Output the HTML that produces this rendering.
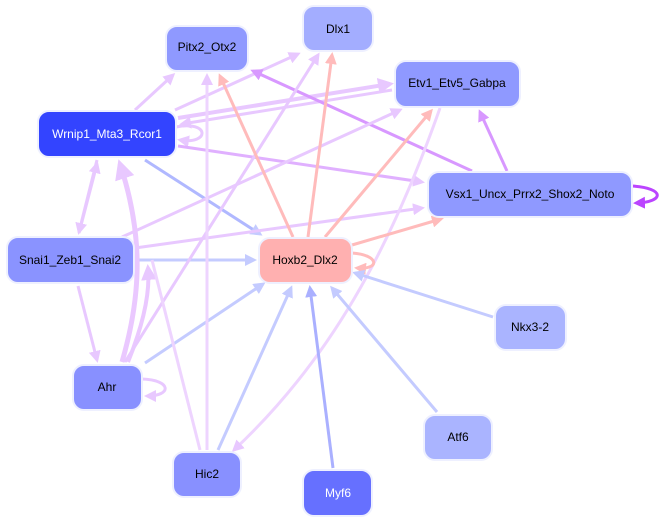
<!DOCTYPE html>
<html><head><style>
body{margin:0;background:#fff;width:661px;height:522px;overflow:hidden}
text{font-family:"Liberation Sans",sans-serif;font-size:12px;text-anchor:middle;dominant-baseline:central}
</style></head><body>
<svg width="661" height="522" viewBox="0 0 661 522">
<defs>
<marker id="ml" markerWidth="4" markerHeight="4" refX="3" refY="2" orient="auto" markerUnits="strokeWidth"><path d="M0,0L4,2L0,4z" fill="#e8c8ff"/></marker>
<marker id="mp" markerWidth="4" markerHeight="4" refX="3" refY="2" orient="auto" markerUnits="strokeWidth"><path d="M0,0L4,2L0,4z" fill="#ffbbbb"/></marker>
<marker id="mb" markerWidth="4" markerHeight="4" refX="3" refY="2" orient="auto" markerUnits="strokeWidth"><path d="M0,0L4,2L0,4z" fill="#c4cbff"/></marker>
<marker id="mu" markerWidth="4" markerHeight="4" refX="3" refY="2" orient="auto" markerUnits="strokeWidth"><path d="M0,0L4,2L0,4z" fill="#d898ff"/></marker>
<marker id="md" markerWidth="4" markerHeight="4" refX="3" refY="2" orient="auto" markerUnits="strokeWidth"><path d="M0,0L4,2L0,4z" fill="#bb44ff"/></marker>
<marker id="mm" markerWidth="4" markerHeight="4" refX="3" refY="2" orient="auto" markerUnits="strokeWidth"><path d="M0,0L4,2L0,4z" fill="#aab0ff"/></marker>
</defs>
<g fill="none" stroke-width="3">
<path d="M135,110L173,75" stroke="#e8c8ff" marker-end="url(#ml)"/>
<path d="M175,110L298,54" stroke="#e8c8ff" marker-end="url(#ml)"/>
<path d="M178,118L390,84" stroke="#e8c8ff" stroke-width="4" marker-end="url(#ml)"/>
<path d="M392,90L182,124" stroke="#e8c8ff" stroke-width="3" marker-end="url(#ml)"/>
<path d="M176,127C210,120 210,145 180,140" stroke="#e8c8ff" marker-end="url(#ml)"/>
<path d="M178,146L422,182" stroke="#e0b0ff" marker-end="url(#ml)"/>
<path d="M145,160L260,234" stroke="#b0b8ff" marker-end="url(#mb)"/>
<path d="M472,171L253,71" stroke="#d898ff" marker-end="url(#mu)"/>
<path d="M507,171L480,112" stroke="#d898ff" marker-end="url(#mu)"/>
<path d="M632,186C665,188 665,202 636,203" stroke="#bb44ff" marker-end="url(#md)"/>
<path d="M79,233L97,164" stroke="#e8c8ff" marker-end="url(#ml)"/>
<path d="M97,160L79,232" stroke="#e8c8ff" marker-end="url(#ml)"/>
<path d="M122,237L400,110" stroke="#e8c8ff" marker-end="url(#ml)"/>
<path d="M135,248L422,208" stroke="#e8c8ff" marker-end="url(#ml)"/>
<path d="M135,260L254,260" stroke="#c4cbff" marker-end="url(#mb)"/>
<path d="M78,286L97,360" stroke="#e8c8ff" marker-end="url(#ml)"/>
<path d="M122,362C140,300 145,240 120,164" stroke="#eac8ff" stroke-width="5" marker-end="url(#ml)"/>
<path d="M128,362C145,320 150,290 148,268" stroke="#eac8ff" stroke-width="4" marker-end="url(#ml)"/>
<path d="M125,362L318,55" stroke="#e8c8ff" marker-end="url(#ml)"/>
<path d="M145,363L263,284" stroke="#c4cbff" marker-end="url(#mb)"/>
<path d="M142,379C172,380 172,396 147,396" stroke="#e8c8ff" marker-end="url(#ml)"/>
<path d="M207,450L207,76" stroke="#eed4ff" marker-end="url(#ml)"/>
<path d="M200,450L152,260" stroke="#eed4ff"/>
<path d="M218,450L291,288" stroke="#c4cbff" marker-end="url(#mb)"/>
<path d="M440,108C390,250 330,360 234,450" stroke="#eed4ff" marker-end="url(#ml)"/>
<path d="M293,237L220,76" stroke="#ffbbbb" marker-end="url(#mp)"/>
<path d="M308,237L332,55" stroke="#ffbbbb" marker-end="url(#mp)"/>
<path d="M325,237L431,111" stroke="#ffbbbb" marker-end="url(#mp)"/>
<path d="M352,245L441,219" stroke="#ffbbbb" marker-end="url(#mp)"/>
<path d="M352,253C380,255 380,270 357,268" stroke="#ffbbbb" marker-end="url(#mp)"/>
<path d="M493,317L355,273" stroke="#c4cbff" marker-end="url(#mb)"/>
<path d="M437,412L332,288" stroke="#c4cbff" marker-end="url(#mb)"/>
<path d="M333,468L310,288" stroke="#aab0ff" marker-end="url(#mm)"/>
</g>
<g stroke="#eef0ff" stroke-width="2">
<rect x="166" y="26" width="82" height="45" rx="11" fill="#8f99ff"/>
<rect x="303" y="6" width="70" height="45" rx="11" fill="#a3adff"/>
<rect x="395" y="61" width="125" height="46" rx="11" fill="#8f99ff"/>
<rect x="38" y="111" width="138" height="46" rx="11" fill="#3344ff"/>
<rect x="428" y="172" width="204" height="45" rx="11" fill="#8f99ff"/>
<rect x="7" y="237" width="127" height="46" rx="11" fill="#8a93ff"/>
<rect x="259" y="238" width="93" height="45" rx="11" fill="#ffb0b0"/>
<rect x="495" y="305" width="71" height="45" rx="11" fill="#aab4ff"/>
<rect x="73" y="365" width="69" height="45" rx="11" fill="#8890ff"/>
<rect x="424" y="415" width="68" height="45" rx="11" fill="#aab4ff"/>
<rect x="173" y="452" width="68" height="45" rx="11" fill="#8890ff"/>
<rect x="303" y="470" width="69" height="46" rx="11" fill="#6670ff"/>
</g>
<text x="207" y="47">Pitx2_Otx2</text>
<text x="338" y="29">Dlx1</text>
<text x="457" y="83">Etv1_Etv5_Gabpa</text>
<text x="107" y="134" fill="#fff">Wrnip1_Mta3_Rcor1</text>
<text x="530" y="194">Vsx1_Uncx_Prrx2_Shox2_Noto</text>
<text x="70" y="260">Snai1_Zeb1_Snai2</text>
<text x="305" y="260">Hoxb2_Dlx2</text>
<text x="530" y="327">Nkx3-2</text>
<text x="107" y="387">Ahr</text>
<text x="458" y="437">Atf6</text>
<text x="207" y="474">Hic2</text>
<text x="338" y="493" fill="#fff">Myf6</text>
</svg>
</body></html>
